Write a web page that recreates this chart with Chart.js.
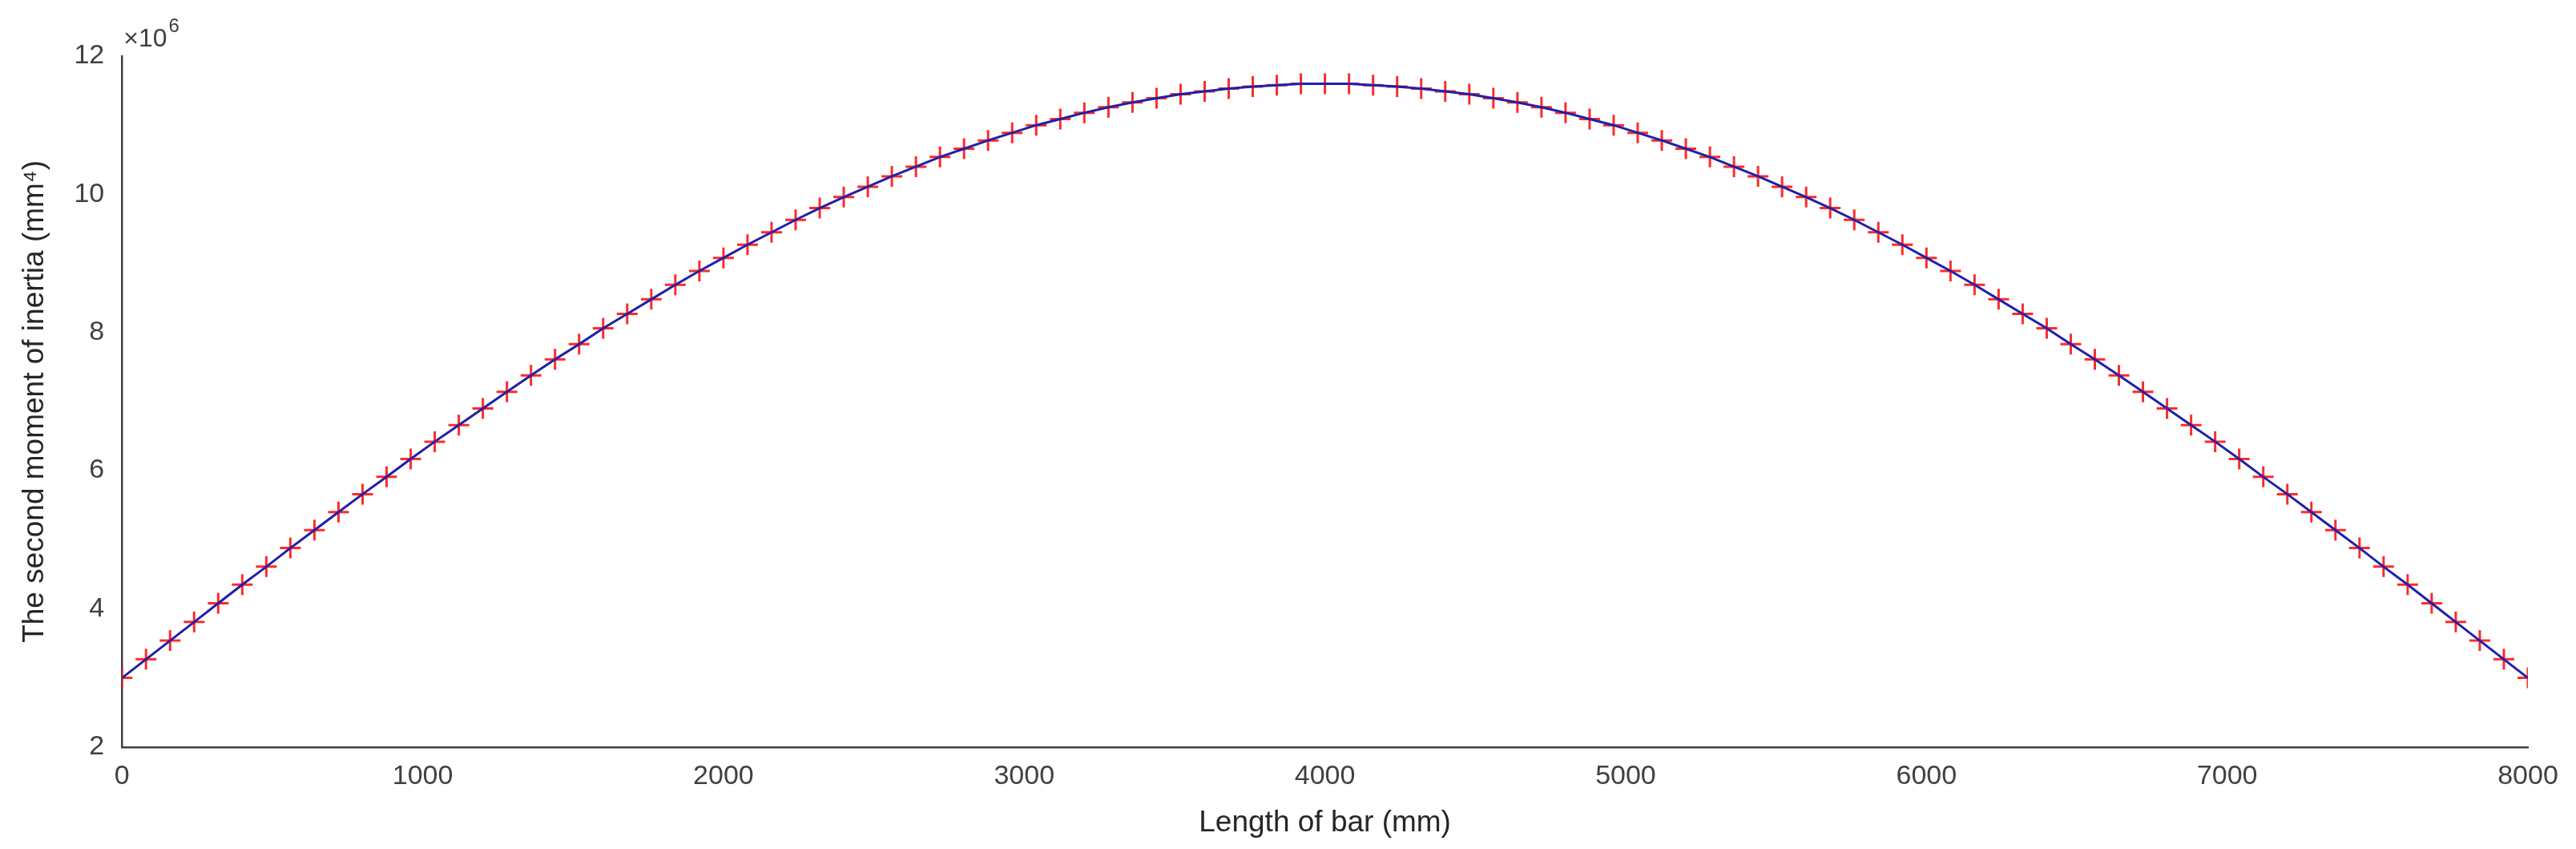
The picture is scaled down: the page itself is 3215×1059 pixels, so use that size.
<!DOCTYPE html>
<html>
<head>
<meta charset="utf-8">
<script src="https://cdn.jsdelivr.net/npm/chart.js@4"></script>
<style>
  html, body { margin: 0; padding: 0; background: #fff; }
  #wrap { width: 3215px; height: 1059px; }
</style>
</head>
<body>
<div id="wrap"><canvas id="cl_chart"></canvas></div>
<script>
// bar position (mm), one point every 80 mm
var lengths = [];
for (var i = 0; i <= 100; i++) lengths.push(i * 80);

// second moment of inertia (x10^6 mm^4)
var inertiaRise = [3.00, 3.27, 3.54, 3.81, 4.08, 4.35, 4.61, 4.88, 5.14, 5.40,
    5.66, 5.91, 6.17, 6.42, 6.66, 6.90, 7.14, 7.38, 7.61, 7.83,
    8.06, 8.27, 8.48, 8.69, 8.89, 9.08, 9.27, 9.45, 9.63, 9.80,
    9.96, 10.11, 10.26, 10.40, 10.54, 10.66, 10.78, 10.89, 11.00, 11.09,
    11.18, 11.26, 11.33, 11.39, 11.45, 11.49, 11.53, 11.56, 11.58, 11.60, 11.60];
var inertiaFall = [11.60, 11.60, 11.58, 11.56, 11.53, 11.49, 11.45, 11.39, 11.33, 11.26,
    11.18, 11.09, 11.00, 10.89, 10.78, 10.66, 10.54, 10.40, 10.26, 10.11,
    9.96, 9.80, 9.63, 9.45, 9.27, 9.08, 8.89, 8.69, 8.48, 8.27,
    8.06, 7.83, 7.61, 7.38, 7.14, 6.90, 6.66, 6.42, 6.17, 5.91,
    5.66, 5.40, 5.14, 4.88, 4.61, 4.35, 4.08, 3.81, 3.54, 3.27, 3.00];
var values = inertiaRise.concat(inertiaFall.slice(1));

var xTicks = [0, 1000, 2000, 3000, 4000, 5000, 6000, 7000, 8000];
var yTicks = [2, 4, 6, 8, 10, 12];

var points = lengths.map(function (x, i) { return { x: x, y: values[i] }; });

var axisColor = "#404040";
var tickFont = { family: "Liberation Sans", size: 34 };

// the "x10^6" exponent label above the y axis
var exponentLabel = {
    id: "exponentLabel",
    afterDraw: function (chart) {
        var ctx = chart.ctx;
        var y = chart.scales.y;
        ctx.save();
        ctx.fillStyle = axisColor;
        ctx.textBaseline = "alphabetic";
        ctx.font = "32px Liberation Sans";
        ctx.fillText("\u00d710", y.right + 2, y.top - 12);
        var w = ctx.measureText("\u00d710").width;
        ctx.font = "24px Liberation Sans";
        ctx.fillText("6", y.right + 4 + w, y.top - 30);
        ctx.restore();
    },
};

var mainchart = new Chart("cl_chart", {
    type: "scatter",
    data: {
        datasets: [
            {
                data: points,
                showLine: true,
                borderColor: "#2020a8",
                borderWidth: 3,
                pointRadius: 0,
                order: 1,
            },
            {
                data: points,
                showLine: false,
                pointStyle: "cross",
                pointRadius: 13,
                pointBorderWidth: 3,
                pointBorderColor: "#ff2a2a",
                order: 2,
            },
        ],
    },
    options: {
        responsive: true,
        maintainAspectRatio: false,
        animation: false,
        layout: { padding: { top: 70, right: 60, left: 18, bottom: 6 } },
        plugins: {
            legend: { display: false },
            tooltip: { enabled: false },
        },
        scales: {
            x: {
                type: "linear",
                min: 0,
                max: 8000,
                afterBuildTicks: function (s) { s.ticks = xTicks.map(function (v) { return { value: v }; }); },
                grid: { display: false, drawTicks: false },
                border: { color: axisColor, width: 2.5 },
                ticks: { color: axisColor, font: tickFont, padding: 16, maxRotation: 0, callback: function (v) { return String(v); } },
                title: { display: true, text: "Length of bar (mm)", color: "#262626", font: { family: "Liberation Sans", size: 37 }, padding: { top: 0 } },
            },
            y: {
                min: 2,
                max: 12,
                afterBuildTicks: function (s) { s.ticks = yTicks.map(function (v) { return { value: v }; }); },
                grid: { display: false, drawTicks: false },
                border: { color: axisColor, width: 2.5 },
                ticks: { color: axisColor, font: tickFont, padding: 22, callback: function (v) { return String(v); } },
                title: { display: true, text: "The second moment of inertia (mm\u2074)", color: "#262626", font: { family: "Liberation Sans", size: 37 } },
            },
        },
    },
    plugins: [exponentLabel],
});
</script>
</body>
</html>
